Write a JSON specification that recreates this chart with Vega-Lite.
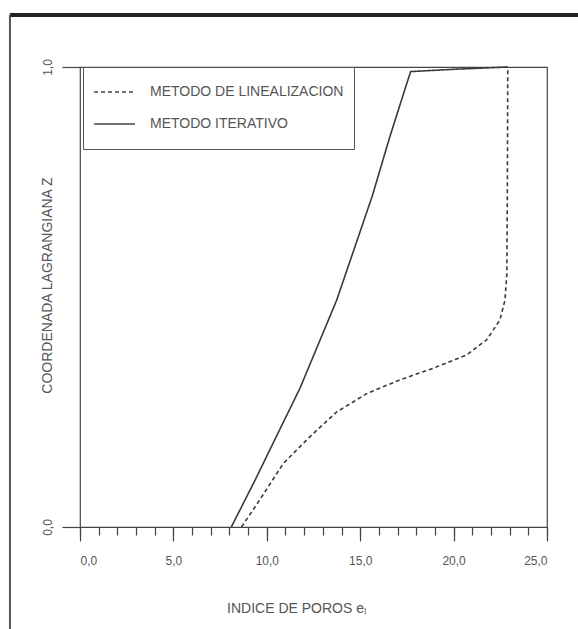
{
  "$schema": "https://vega.github.io/schema/vega-lite/v6.json",
  "width": 467,
  "height": 460,
  "autosize": "none",
  "padding": {"left": 80, "top": 67, "right": 31, "bottom": 102},
  "background": "white",
  "config": {
    "view": {"stroke": "#444", "strokeWidth": 1.2},
    "font": "Liberation Sans",
    "axis": {
      "grid": false,
      "domain": false,
      "tickColor": "#444",
      "tickWidth": 1.2,
      "labelColor": "#555",
      "titleColor": "#555",
      "labelFont": "Liberation Sans Narrow, Liberation Sans, sans-serif",
      "titleFont": "Liberation Sans Narrow, Liberation Sans, sans-serif",
      "labelFontSize": 12,
      "titleFontSize": 14,
      "titleFontWeight": "normal"
    }
  },
  "datasets": {
    "curves": [
      {"series": "METODO DE LINEALIZACION", "i": 1, "e": 8.65, "z": 0.0},
      {"series": "METODO DE LINEALIZACION", "i": 2, "e": 9.8, "z": 0.07},
      {"series": "METODO DE LINEALIZACION", "i": 3, "e": 10.88, "z": 0.138},
      {"series": "METODO DE LINEALIZACION", "i": 4, "e": 12.3, "z": 0.196},
      {"series": "METODO DE LINEALIZACION", "i": 5, "e": 13.74, "z": 0.25},
      {"series": "METODO DE LINEALIZACION", "i": 6, "e": 15.35, "z": 0.29},
      {"series": "METODO DE LINEALIZACION", "i": 7, "e": 17.13, "z": 0.32},
      {"series": "METODO DE LINEALIZACION", "i": 8, "e": 18.9, "z": 0.345},
      {"series": "METODO DE LINEALIZACION", "i": 9, "e": 20.7, "z": 0.374},
      {"series": "METODO DE LINEALIZACION", "i": 10, "e": 21.77, "z": 0.407},
      {"series": "METODO DE LINEALIZACION", "i": 11, "e": 22.48, "z": 0.45},
      {"series": "METODO DE LINEALIZACION", "i": 12, "e": 22.75, "z": 0.493},
      {"series": "METODO DE LINEALIZACION", "i": 13, "e": 22.85, "z": 0.55},
      {"series": "METODO DE LINEALIZACION", "i": 14, "e": 22.88, "z": 0.75},
      {"series": "METODO DE LINEALIZACION", "i": 15, "e": 22.9, "z": 1.0},
      {"series": "METODO ITERATIVO", "i": 1, "e": 8.1, "z": 0.0},
      {"series": "METODO ITERATIVO", "i": 2, "e": 9.35, "z": 0.1},
      {"series": "METODO ITERATIVO", "i": 3, "e": 10.55, "z": 0.2},
      {"series": "METODO ITERATIVO", "i": 4, "e": 11.78, "z": 0.302},
      {"series": "METODO ITERATIVO", "i": 5, "e": 13.74, "z": 0.493},
      {"series": "METODO ITERATIVO", "i": 6, "e": 15.65, "z": 0.72},
      {"series": "METODO ITERATIVO", "i": 7, "e": 16.6, "z": 0.85},
      {"series": "METODO ITERATIVO", "i": 8, "e": 17.5, "z": 0.965},
      {"series": "METODO ITERATIVO", "i": 9, "e": 17.7, "z": 0.99},
      {"series": "METODO ITERATIVO", "i": 10, "e": 20.0, "z": 0.995},
      {"series": "METODO ITERATIVO", "i": 11, "e": 22.9, "z": 1.0}
    ]
  },
  "layer": [
    {
      "data": {"values": [{}]},
      "mark": {"type": "rule", "color": "#222", "strokeWidth": 4, "clip": false},
      "encoding": {
        "x": {"datum": -3.75, "type": "quantitative", "scale": {"domain": [0, 25], "nice": false}, "axis": null},
        "x2": {"datum": 26.7},
        "y": {"datum": 1.113, "type": "quantitative", "scale": {"domain": [0, 1], "nice": false}, "axis": null}
      }
    },
    {
      "data": {"values": [{}]},
      "mark": {"type": "rule", "color": "#555", "strokeWidth": 2, "clip": false},
      "encoding": {
        "x": {"datum": -3.75, "type": "quantitative", "scale": {"domain": [0, 25], "nice": false}, "axis": null},
        "y": {"datum": 1.113, "type": "quantitative", "scale": {"domain": [0, 1], "nice": false}, "axis": null},
        "y2": {"datum": -0.23}
      }
    },
    {
      "data": {"name": "curves"},
      "mark": {"type": "line", "opacity": 0},
      "encoding": {
        "x": {
          "field": "e", "type": "quantitative",
          "scale": {"domain": [0, 25], "nice": false},
          "axis": {"orient": "bottom", "values": [0,1,2,3,4,5,6,7,8,9,10,11,12,13,14,15,16,17,18,19,20,21,22,23,24,25], "tickSize": 8, "labels": false, "title": null}
        },
        "y": {"field": "z", "type": "quantitative", "scale": {"domain": [0, 1], "nice": false}, "axis": null},
        "detail": {"field": "series"},
        "order": {"field": "i"}
      }
    },
    {
      "data": {"name": "curves"},
      "mark": {"type": "line", "color": "#3a3a3a", "strokeWidth": 1.6},
      "encoding": {
        "x": {
          "field": "e", "type": "quantitative",
          "scale": {"domain": [0, 25], "nice": false},
          "axis": {
            "orient": "bottom",
            "values": [0, 5, 10, 15, 20, 25],
            "tickSize": 14,
            "labelPadding": 14,
            "labelExpr": "replace(format(datum.value, '.1f'), '.', ',')",
            "title": "INDICE DE POROS eₗ",
            "titleX": 216,
            "titleY": 81,
            "titleAnchor": null,
            "titleBaseline": "middle",
            "titleAlign": "center"
          }
        },
        "y": {
          "field": "z", "type": "quantitative",
          "scale": {"domain": [0, 1], "nice": false},
          "axis": {
            "orient": "left",
            "values": [0, 1],
            "tickSize": 18,
            "labelAngle": -90,
            "labelAlign": "center",
            "labelBaseline": "middle",
            "labelPadding": 15,
            "labelExpr": "replace(format(datum.value, '.1f'), '.', ',')",
            "title": "COORDENADA LAGRANGIANA Z",
            "titleAngle": -90,
            "titleX": -33,
            "titleY": 218,
            "titleAlign": "center",
            "titleBaseline": "middle"
          }
        },
        "strokeDash": {
          "field": "series", "type": "nominal",
          "scale": {"domain": ["METODO DE LINEALIZACION", "METODO ITERATIVO"], "range": [[4, 3], [1, 0]]},
          "legend": {
            "title": null,
            "orient": "none",
            "legendX": 3,
            "legendY": 0,
            "strokeColor": "#555",
            "fillColor": "white",
            "padding": 10,
            "rowPadding": 2,
            "clipHeight": 30,
            "symbolType": "stroke",
            "symbolSize": 1681,
            "symbolStrokeColor": "#444",
            "symbolStrokeWidth": 1.5,
            "labelFontSize": 14,
            "labelColor": "#555",
            "labelFont": "Liberation Sans Narrow, Liberation Sans, sans-serif",
            "labelLimit": 400,
            "labelOffset": 14
          }
        },
        "order": {"field": "i"}
      }
    }
  ],
  "resolve": {"axis": {"x": "independent", "y": "independent"}}
}
